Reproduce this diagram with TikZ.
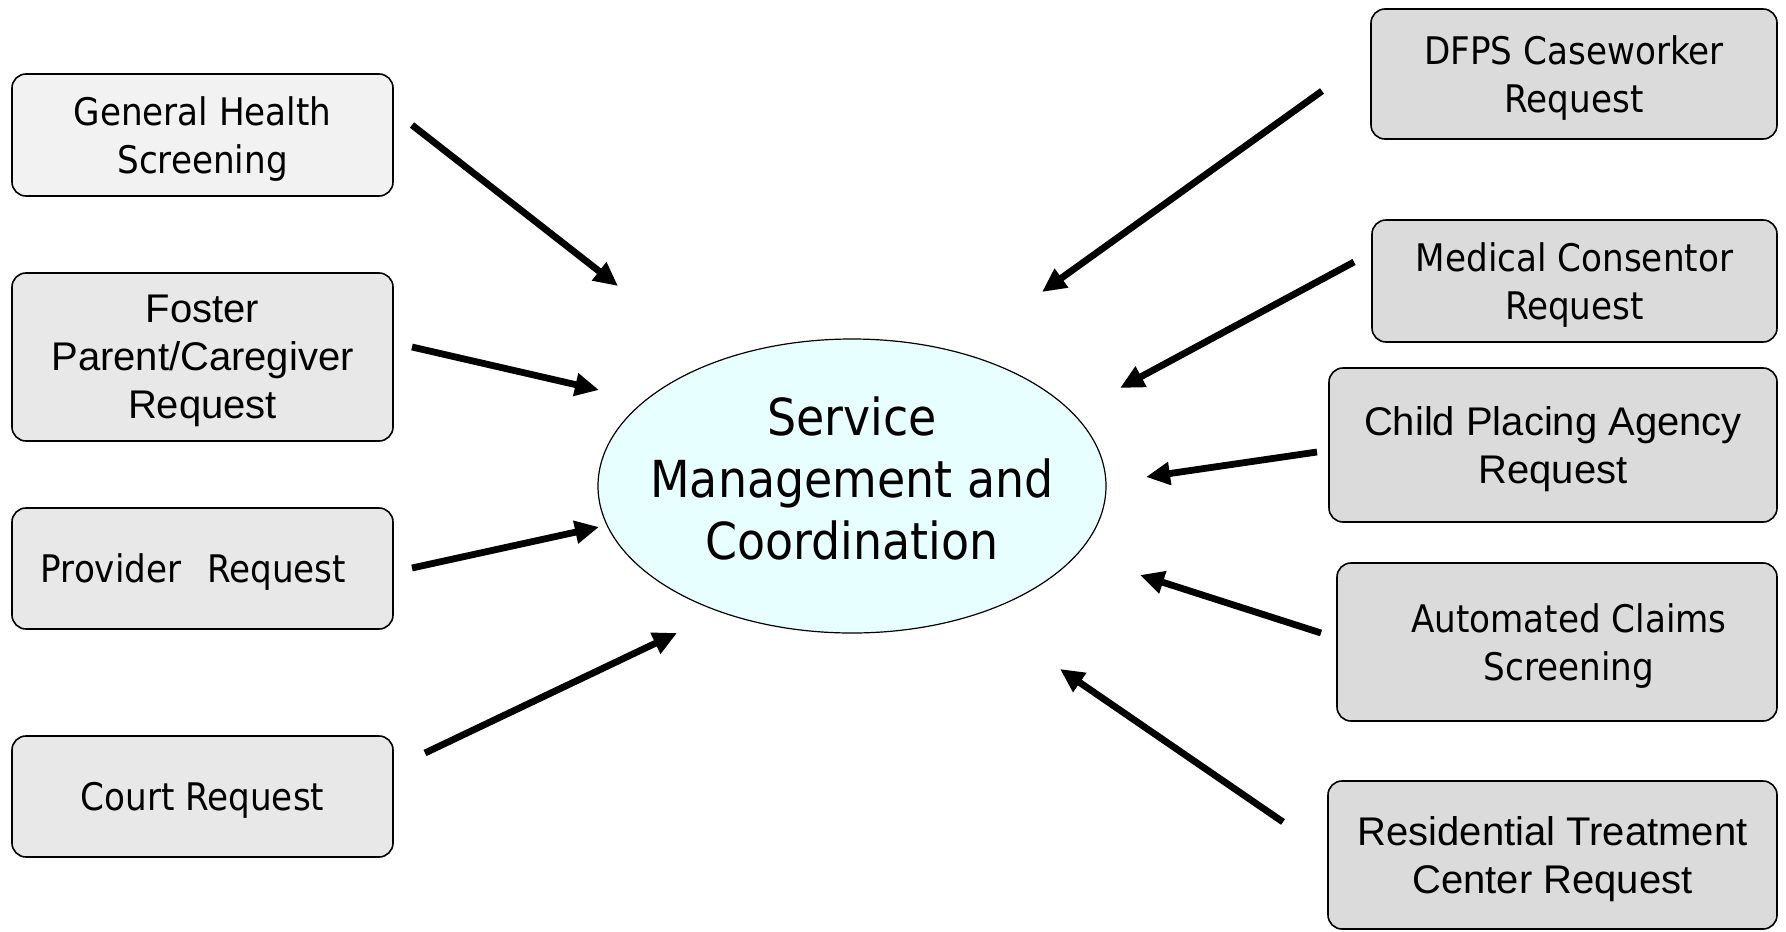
\documentclass[tikz,border=0pt]{standalone}
\usepackage{fontspec}
\setmainfont{DejaVu Sans Condensed}
\newfontfamily\arialfont{Liberation Sans}
\usetikzlibrary{shapes, arrows.meta, positioning}
\definecolor{hubcyan}{RGB}{232,255,255}

\begin{document}
\begin{tikzpicture}[
    x=0.5pt, y=-0.5pt,
    font=\fontsize{19}{24}\selectfont,
    req_block/.style={draw, line width=0.8pt, rounded corners=7pt, fill=gray!18, align=center, inner sep=0pt, text depth=0pt},
    light_block/.style={req_block, fill=gray!10},
    dark_block/.style={req_block, fill=gray!28},
    arial_text/.style={font=\arialfont\fontsize{20}{24}\selectfont, text depth=-2pt},
    hub/.style={draw, ellipse, line width=0.6pt, fill=hubcyan, inner xsep=-12.5pt, inner ysep=0pt, text depth=8pt, minimum width=254pt, minimum height=147pt, align=center, font=\fontsize{25.5}{31}\selectfont},
    arrow/.style={-{Triangle[length=12pt, width=11pt]}, line width=3.4pt}
]
\useasboundingbox (0, 0) rectangle (1786, 931);

% --- Centre ---
\node[hub] (SMC) at (852, 486) {Service\\Management and\\Coordination};

% --- Left Requests ---
\node[light_block, minimum width=190.5pt, minimum height=61pt] (GHS) at (202.5, 135) {General Health\\Screening};
\node[req_block, arial_text, minimum width=190.5pt, minimum height=84pt] (FPC) at (202.5, 357) {Foster\\Parent/Caregiver\\Request};
\node[req_block, minimum width=190.5pt, minimum height=60.5pt] (PRV) at (202.5, 568.5) {Provider\hspace{13pt}Request\hspace*{9pt}};
\node[req_block, minimum width=190.5pt, minimum height=60.5pt] (CRT) at (202.5, 796.5) {Court Request};

% --- Right Requests ---
\node[dark_block, minimum width=203pt, minimum height=65pt] (DFPS) at (1574, 74) {DFPS Caseworker\\Request};
\node[dark_block, minimum width=202.5pt, minimum height=61pt] (MED) at (1574.5, 281) {Medical Consentor\\Request};
\node[dark_block, arial_text, minimum width=224pt, minimum height=77pt] (CPA) at (1553, 445) {Child Placing Agency\\Request};
\node[dark_block, minimum width=220pt, minimum height=79pt] (ACS) at (1557, 642) {\hspace*{12pt}Automated Claims\\\hspace*{12pt}Screening};
\node[dark_block, arial_text, minimum width=224.5pt, minimum height=74pt] (RTC) at (1552.5, 855) {Residential Treatment\\Center Request};

% --- Arrow ends ---
\coordinate (GHS-out) at (412, 125);  \coordinate (GHS-in) at (618, 286);
\coordinate (FPC-out) at (412, 347);  \coordinate (FPC-in) at (599, 390);
\coordinate (PRV-out) at (412, 568);  \coordinate (PRV-in) at (599, 527);
\coordinate (CRT-out) at (425, 753);  \coordinate (CRT-in) at (677, 633);
\coordinate (DFPS-out) at (1322, 91); \coordinate (DFPS-in) at (1042, 292);
\coordinate (MED-out) at (1354, 262); \coordinate (MED-in) at (1120, 388);
\coordinate (CPA-out) at (1317, 452); \coordinate (CPA-in) at (1146, 477);
\coordinate (ACS-out) at (1321, 633); \coordinate (ACS-in) at (1140, 575);
\coordinate (RTC-out) at (1283, 822); \coordinate (RTC-in) at (1060, 669);

% --- Arrows into the centre ---
\foreach \src in {GHS, FPC, PRV, CRT, DFPS, MED, CPA, ACS, RTC}
    \draw[arrow] (\src-out) -- (\src-in);

\end{tikzpicture}
\end{document}
